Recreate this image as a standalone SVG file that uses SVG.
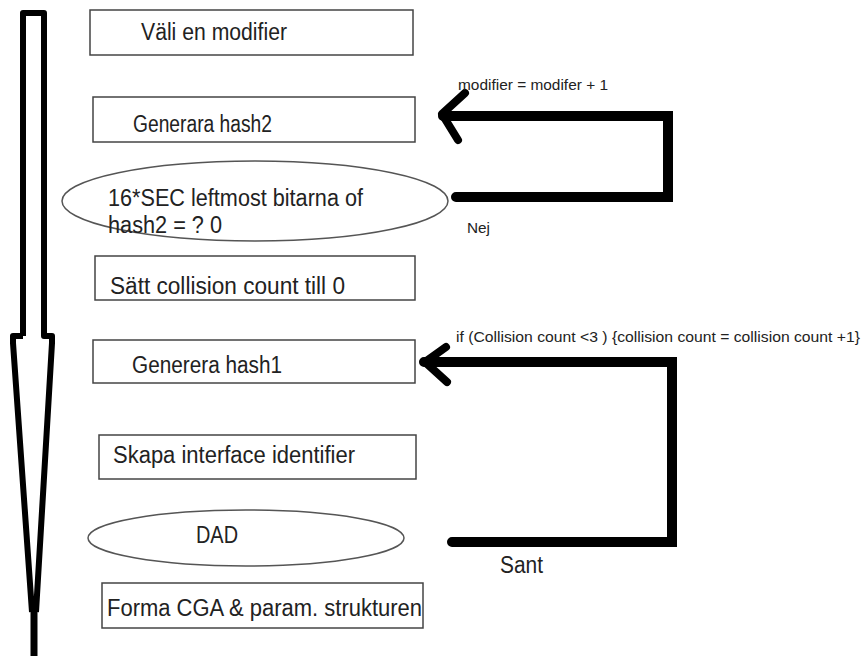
<svg xmlns="http://www.w3.org/2000/svg" width="862" height="661" viewBox="0 0 862 661">
<style>
.box{fill:#fff;stroke:#444;stroke-width:1.5}
.ell{fill:#fff;stroke:#555;stroke-width:1.5}
.t{font-family:"Liberation Sans",Arial,sans-serif;font-size:23px;fill:#222}
.s{font-family:"Liberation Sans",Arial,sans-serif;font-size:14px;fill:#222}
.thick{fill:none;stroke:#000;stroke-width:10;stroke-linecap:round;stroke-linejoin:miter}
.head{fill:none;stroke:#000;stroke-width:8;stroke-linecap:round;stroke-linejoin:round}
.big{fill:none;stroke:#000;stroke-width:6;stroke-linejoin:round}
</style>
<rect width="862" height="661" fill="#fff"/>
<g id="flow-arrow">
<path class="big" d="M23 336 V13 H44 V336 H52 V343 L36 612 M23 336 H13 V343 L32 612"/>
<path d="M34 610 V656" stroke="#000" stroke-width="7" fill="none"/>
</g>
<g id="n1"><rect class="box" x="90" y="10" width="323" height="45"/><text class="t" x="141" y="40" textLength="146" lengthAdjust="spacingAndGlyphs">Väli en modifier</text></g>
<g id="n2"><rect class="box" x="93" y="97" width="322" height="45"/><text class="t" x="133" y="132" textLength="139" lengthAdjust="spacingAndGlyphs">Generara hash2</text></g>
<g id="n3"><ellipse class="ell" cx="255" cy="201" rx="193" ry="40"/><text class="t" x="108" y="206" textLength="255" lengthAdjust="spacingAndGlyphs">16*SEC leftmost bitarna of</text><text class="t" x="108" y="233" textLength="114" lengthAdjust="spacingAndGlyphs">hash2 = ? 0</text></g>
<g id="n4"><rect class="box" x="95" y="256" width="320" height="44"/><text class="t" x="110" y="294" textLength="235" lengthAdjust="spacingAndGlyphs">Sätt collision count till 0</text></g>
<g id="n5"><rect class="box" x="93" y="340" width="322" height="43"/><text class="t" x="132" y="373" textLength="150" lengthAdjust="spacingAndGlyphs">Generera hash1</text></g>
<g id="n6"><rect class="box" x="99" y="435" width="317" height="44"/><text class="t" x="113" y="463" textLength="242" lengthAdjust="spacingAndGlyphs">Skapa interface identifier</text></g>
<g id="n7"><ellipse class="ell" cx="246" cy="538" rx="158" ry="28"/><text class="t" x="196" y="543" textLength="42" lengthAdjust="spacingAndGlyphs">DAD</text></g>
<g id="n8"><rect class="box" x="102" y="583" width="321" height="45"/><text class="t" x="107" y="616" textLength="315" lengthAdjust="spacingAndGlyphs">Forma CGA &amp; param. strukturen</text></g>
<g id="connectors">
<path class="thick" d="M456 197 H668 V116 H443"/>
<path class="head" d="M465 93 L442 114 L458 140"/>
<text class="s" x="458" y="90" textLength="150" lengthAdjust="spacingAndGlyphs">modifier = modifer + 1</text>
<text class="s" x="467" y="233" textLength="23" lengthAdjust="spacingAndGlyphs">Nej</text>
<path class="thick" d="M452 542 H672 V362 H424"/>
<path class="head" d="M446 347 L425 362 L447 382"/>
<text class="s" x="456" y="342" textLength="404" lengthAdjust="spacingAndGlyphs">if (Collision count &lt;3 ) {collision count = collision count +1}</text>
<text class="t" x="500" y="573" textLength="43" lengthAdjust="spacingAndGlyphs">Sant</text>
</g>
</svg>
